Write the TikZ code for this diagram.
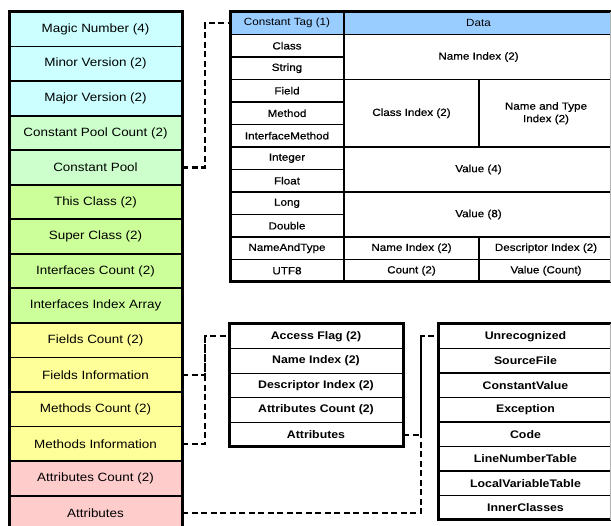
\documentclass[tikz,border=0pt]{standalone}
\usepackage{fontspec}
\setmainfont{Liberation Sans}[FakeStretch=1.12]
\definecolor{cyanc}{HTML}{CCFFFF}
\definecolor{mintc}{HTML}{CCFFCC}
\definecolor{limec}{HTML}{CCFF99}
\definecolor{yellc}{HTML}{FFFF99}
\definecolor{pinkc}{HTML}{FFCCCC}
\definecolor{bluec}{HTML}{99CCFF}
\begin{document}
\begin{tikzpicture}[x=1pt,y=-1pt,
  every node/.style={inner sep=0pt, outer sep=0pt, anchor=north west, align=center},
  field/.style={draw, line width=1.8pt, minimum width=173pt, minimum height=34.55pt,
                font=\fontsize{12}{14}\selectfont},
  cpcell/.style={draw, line width=1.3pt,
                 font=\fontsize{10.4}{12.5}\selectfont\addfontfeature{FakeBold=0.6}},
  cphead/.style={cpcell, fill=bluec, minimum height=22.5pt,
                 font=\fontsize{10.4}{12.5}\selectfont},
  subcell/.style={draw, line width=1.3pt, font=\bfseries\fontsize{11}{13}\selectfont},
  link/.style={line width=2.2pt, dash pattern=on 6pt off 3.5pt},
  frame/.style={line width=3pt},
  edge/.style={gray!60, line width=0.8pt}]
\useasboundingbox (0,0) rectangle (611,526);
\clip (0,0) rectangle (611,526);

% class file layout
\foreach \name/\txt/\col [count=\i from 0] in {
    magic/Magic Number (4)/cyanc,
    minor/Minor Version (2)/cyanc,
    major/Major Version (2)/cyanc,
    cpcount/Constant Pool Count (2)/mintc,
    cpool/Constant Pool/mintc,
    thiscls/This Class (2)/limec,
    supercls/Super Class (2)/limec,
    ifcount/Interfaces Count (2)/limec,
    ifarray/Interfaces Index Array/limec,
    fcnt/Fields Count (2)/yellc,
    finfo/Fields Information/yellc,
    mcnt/Methods Count (2)/yellc,
    minfo/Methods Information/yellc,
    acnt/Attributes Count (2)/pinkc,
    attrs/Attributes/pinkc}
  \node[field, fill=\col] (\name) at (9,12+34.55*\i) {\txt};
\draw[frame] (magic.north west) rectangle (attrs.south east);

% constant pool entry table
\node[cphead, minimum width=114pt] (tag) at (230,12) {Constant Tag (1)};
\node[cphead, minimum width=269pt] (data) at (344,12) {Data};
\foreach \name/\txt [count=\i] in {
    tclass/Class, tstring/String, tfield/Field, tmethod/Method,
    tiface/InterfaceMethod, tint/Integer, tfloat/Float, tlong/Long,
    tdouble/Double, tnat/NameAndType, tutf/UTF8}
  \node[cpcell, minimum width=114pt, minimum height=22.5pt] (\name) at (230,12+22.5*\i) {\txt};
\node[cpcell, minimum width=269pt, minimum height=45pt] (dname) at (344,34.5) {Name Index (2)};
\node[cpcell, minimum width=135pt, minimum height=67.5pt] (dcls) at (344,79.5) {Class Index (2)};
\node[cpcell, minimum width=134pt, minimum height=67.5pt] (dnat) at (479,79.5) {Name and Type\\Index (2)};
\node[cpcell, minimum width=269pt, minimum height=45pt] (dv4) at (344,147) {Value (4)};
\node[cpcell, minimum width=269pt, minimum height=45pt] (dv8) at (344,192) {Value (8)};
\node[cpcell, minimum width=135pt, minimum height=22.5pt] (dnti) at (344,237) {Name Index (2)};
\node[cpcell, minimum width=134pt, minimum height=22.5pt] (dndi) at (479,237) {Descriptor Index (2)};
\node[cpcell, minimum width=135pt, minimum height=22.5pt] (dcnt) at (344,259.5) {Count (2)};
\node[cpcell, minimum width=134pt, minimum height=22.5pt] (dval) at (479,259.5) {Value (Count)};
\draw[frame] (data.north east) -- (tag.north west) -- (tutf.south west) -- (dval.south east);
\draw[edge] (610,12) -- (610,282);

% field / method info table
\foreach \name/\txt [count=\i from 0] in {
    faccess/Access Flag (2), fname/Name Index (2), fdesc/Descriptor Index (2),
    fcount/Attributes Count (2), fattr/Attributes}
  \node[subcell, minimum width=174pt, minimum height=24.6pt] (\name) at (229,324+24.6*\i) {\txt};
\draw[frame] (faccess.north west) rectangle (fattr.south east);

% attribute kinds table
\foreach \name/\txt [count=\i from 0] in {
    aunrec/Unrecognized, asrc/SourceFile, aconst/ConstantValue, aexc/Exception,
    acode/Code, alnt/LineNumberTable, alvt/LocalVariableTable, ainner/InnerClasses}
  \node[subcell, minimum width=175pt, minimum height=24.5pt] (\name) at (438,324+24.5*\i) {\txt};
\draw[frame] (aunrec.north east) -- (aunrec.north west) -- (ainner.south west) -- (ainner.south east);
\draw[edge] (610,324) -- (610,520);

% dashed links
\draw[link] (cpool.east) -| ([xshift=-25pt]tag.west) -- (tag.west);
\draw[link] (finfo.east) -| ([xshift=-24pt]faccess.west) -- (faccess.west);
\draw[link] (minfo.east) -| ([xshift=-24pt]faccess.west);
\draw[link] (fattr.east) -| ([xshift=-17pt]aunrec.west) -- (aunrec.west);
\draw[link] (attrs.east) -| ([xshift=-17pt]aunrec.west);
\end{tikzpicture}
\end{document}
